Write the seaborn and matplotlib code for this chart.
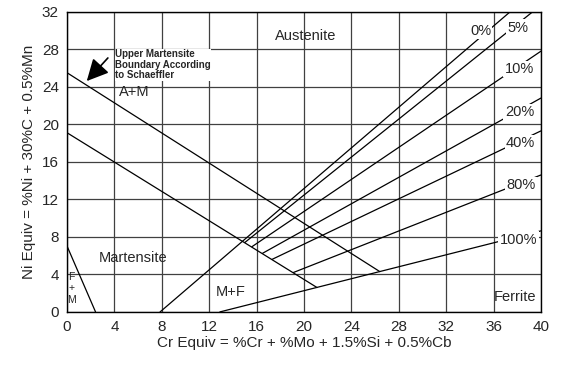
import pandas as pd
import matplotlib
matplotlib.use('Agg')
import matplotlib.pyplot as plt
import seaborn as sns

# линии диаграммы: начало и конец (Cr экв, Ni экв)
line_names = ['upper_m', 'a_m', 'm_f', '0%', '5%', '10%', '20%', '40%', '80%', '100%']
x_start = [0.0, 0.0, 0.0, 7.85, 15.0, 15.6, 16.5, 17.3, 19.1, 12.9]
y_start = [25.5, 19.1, 7.0, 0.0, 7.4, 6.95, 6.25, 5.6, 4.2, 0.0]
x_end = [26.4, 21.1, 2.4, 37.4, 39.3, 40.0, 40.0, 40.0, 40.0, 40.0]
y_end = [4.3, 2.6, 0.0, 32.0, 32.0, 27.8, 22.8, 19.3, 14.6, 8.64]

# подписи процентов феррита
ferrite_labels = ['0%', '5%', '10%', '20%', '40%', '80%', '100%']
ferrite_lx = [34.9, 38.1, 38.2, 38.2, 38.3, 38.3, 38.1]
ferrite_ly = [30.0, 30.3, 25.9, 21.3, 18.0, 13.5, 7.7]

# подписи областей
region_labels = ['Austenite', 'A+M', 'Martensite', 'M+F', 'Ferrite']
region_x = [20.1, 5.7, 5.6, 13.8, 37.8]
region_y = [29.4, 23.5, 5.8, 2.1, 1.6]

x_ticks = list(range(0, 41, 4))
y_ticks = list(range(0, 33, 4))

rows = []
for name, xs, ys, xe, ye in zip(line_names, x_start, y_start, x_end, y_end):
    rows.append({'line': name, 'x': xs, 'y': ys})
    rows.append({'line': name, 'x': xe, 'y': ye})
df = pd.DataFrame(rows)

sns.set_theme(style='white')
plt.rcParams['font.family'] = ['Liberation Sans', 'DejaVu Sans']

fig = plt.figure(figsize=(5.64, 3.70), dpi=100)
ax = fig.add_axes([0.119, 0.157, 0.840, 0.811])

# сетка
for xv in x_ticks:
    ax.axvline(xv, color='0.25', lw=0.9, zorder=1)
for yv in y_ticks:
    ax.axhline(yv, color='0.25', lw=0.9, zorder=1)

sns.lineplot(data=df, x='x', y='y', units='line', estimator=None, sort=False,
             color='black', lw=0.9, ax=ax, zorder=2)

for t, x, y in zip(ferrite_labels, ferrite_lx, ferrite_ly):
    ax.text(x, y, t, ha='center', va='center', fontsize=10.5, zorder=4,
            bbox=dict(facecolor='white', edgecolor='none', pad=1.0))

for t, x, y in zip(region_labels, region_x, region_y):
    ax.text(x, y, t, ha='center', va='center', fontsize=10.5, zorder=4)

ax.text(0.35, 2.5, 'F\n+\nM', ha='center', va='center', fontsize=7.5,
        linespacing=1.2, zorder=4)

ax.text(4.05, 28.0, 'Upper Martensite\nBoundary According\nto Schaeffler',
        ha='left', va='top', fontsize=7, fontweight='bold', linespacing=1.05,
        zorder=4, bbox=dict(facecolor='white', edgecolor='none', pad=0.3))
ax.annotate('', xy=(1.5, 24.4), xytext=(3.6, 27.3),
            arrowprops=dict(arrowstyle='-|>,head_length=1.1,head_width=0.55',
                            color='black', lw=1.2), zorder=5)

ax.set_xlim(0, 40)
ax.set_ylim(0, 32)
ax.set_xticks(x_ticks)
ax.set_yticks(y_ticks)
ax.tick_params(length=0, labelsize=11, pad=6)
ax.set_xlabel('Cr Equiv = %Cr + %Mo + 1.5%Si + 0.5%Cb', fontsize=11, labelpad=1)
ax.set_ylabel('Ni Equiv = %Ni + 30%C + 0.5%Mn', fontsize=11, labelpad=4)
for s in ax.spines.values():
    s.set_color('black')
    s.set_linewidth(1.0)
ax.grid(False)

fig.savefig('out.png', dpi=100)
